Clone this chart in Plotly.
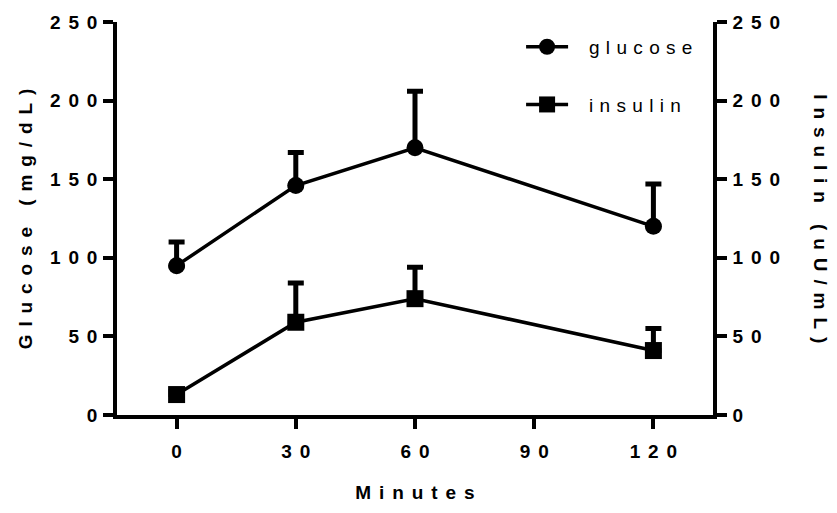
import plotly.graph_objects as go

# Oral glucose tolerance test: mean + upper SEM
minutes = [0, 30, 60, 120]
glucose = [95, 146, 170, 120]
glucose_err = [15, 21, 36, 27]
insulin = [13, 59, 74, 41]
insulin_err = [2, 25, 20, 14]

x_ticks = [0, 30, 60, 90, 120]
y_ticks = [0, 50, 100, 150, 200, 250]

BOLD_GAP = "\u2005\u2006"
LEG_GAP = "\u2004"
LEG_PAD = "\u2002\u2004"


def spaced(text, gap):
    return gap.join(text)


FONT = "Liberation Sans"
BOLD_SIZE = 19
tick_font = dict(family=FONT, size=BOLD_SIZE, color="black", weight="bold")

fig = go.Figure()

fig.add_trace(go.Scatter(
    x=minutes, y=glucose, name=LEG_PAD + spaced("glucose", LEG_GAP), legendgroup="g",
    mode="lines+markers",
    line=dict(color="black", width=3.5),
    marker=dict(symbol="circle", size=17, color="black"),
    error_y=dict(type="data", symmetric=False, array=glucose_err,
                 arrayminus=[0] * len(glucose_err),
                 color="black", thickness=5, width=8),
    yaxis="y",
))
fig.add_trace(go.Scatter(
    x=minutes, y=insulin, name=LEG_PAD + spaced("insulin", LEG_GAP), legendgroup="i",
    mode="lines+markers",
    line=dict(color="black", width=3.5),
    marker=dict(symbol="square", size=17, color="black"),
    error_y=dict(type="data", symmetric=False, array=insulin_err,
                 arrayminus=[0] * len(insulin_err),
                 color="black", thickness=5, width=8),
    yaxis="y2",
))

axis_common = dict(
    showline=True, linewidth=3.5, linecolor="black",
    ticks="outside", ticklen=10, tickwidth=3.5, tickcolor="black",
    showgrid=False, zeroline=False, tickfont=tick_font,
)

fig.update_layout(
    width=837, height=513,
    margin=dict(l=117, r=124, t=17, b=98),
    paper_bgcolor="white", plot_bgcolor="white",
    font=dict(family=FONT, color="black"),
    xaxis=dict(range=[-15, 135], tickvals=x_ticks,
               ticktext=[spaced(str(v), BOLD_GAP) for v in x_ticks],
               ticklabelstandoff=6,
               title=dict(text=spaced("Minutes", BOLD_GAP),
                          font=dict(family=FONT, size=BOLD_SIZE, weight="bold"),
                          standoff=26),
               **axis_common),
    yaxis=dict(range=[0, 250], tickvals=y_ticks,
               ticktext=[spaced(str(v), BOLD_GAP) for v in y_ticks],
               ticklabelstandoff=2,
               **axis_common),
    yaxis2=dict(range=[0, 250], tickvals=y_ticks, overlaying="y", side="right",
                ticktext=[spaced(str(v), BOLD_GAP) for v in y_ticks],
                ticklabelstandoff=2,
                **axis_common),
    legend=dict(x=0.678, y=0.985, xanchor="left", yanchor="top",
                font=dict(family=FONT, size=19, color="black"),
                bgcolor="rgba(0,0,0,0)", itemwidth=42, tracegroupgap=30),
    showlegend=True,
    annotations=[
        dict(text=spaced("Glucose (mg/dL)", BOLD_GAP), xref="paper", yref="paper",
             x=-0.153, y=0.5, xanchor="center", yanchor="middle", textangle=-90,
             showarrow=False, font=dict(family=FONT, size=BOLD_SIZE, weight="bold")),
        dict(text=spaced("Insulin (uU/mL)", BOLD_GAP), xref="paper", yref="paper",
             x=1.18, y=0.5, xanchor="center", yanchor="middle", textangle=90,
             showarrow=False, font=dict(family=FONT, size=BOLD_SIZE, weight="bold")),
    ],
)

fig.write_html("out.html")
